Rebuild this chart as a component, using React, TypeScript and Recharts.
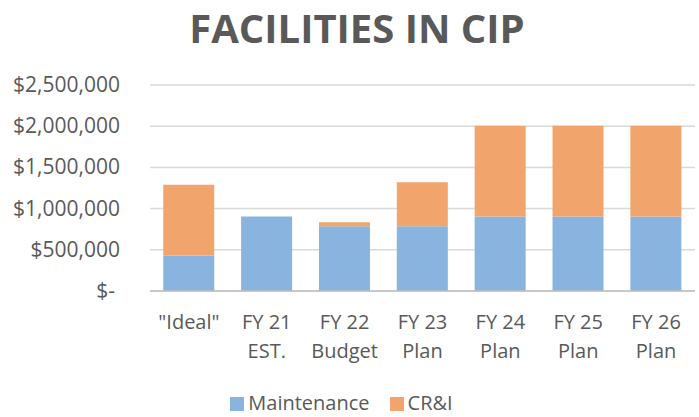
import { Bar, BarChart, CartesianGrid, Legend, XAxis, YAxis } from 'recharts';

const categories = ['"Ideal"', 'FY 21|EST.', 'FY 22|Budget', 'FY 23|Plan', 'FY 24|Plan', 'FY 25|Plan', 'FY 26|Plan'];
const maintenance = [430000, 905000, 785000, 785000, 905000, 905000, 905000];
const crai = [860000, 0, 50000, 535000, 1100000, 1100000, 1100000];
const yTicks = [0, 500000, 1000000, 1500000, 2000000, 2500000];
const seriesNames = ['Maintenance', 'CR&I'];
const seriesColors = ['#8AB4E0', '#F1A46C'];

const data = categories.map((name, i) => ({
  name,
  maintenance: maintenance[i],
  crai: crai[i],
}));

const FONT = '"Open Sans", sans-serif';
const GRAY = '#595959';

function formatMoney(v: number) {
  if (v === 0) return '$-';
  return '$' + v.toLocaleString('en-US');
}

// y tick: Excel accounting style, "$-" sits a bit left
function YTick(props: any) {
  const { x, y, payload } = props;
  const isZero = payload.value === 0;
  return (
    <text x={isZero ? x - 5 : x} y={y} dy={7} textAnchor="end" fill={GRAY} fontSize={21} fontFamily={FONT}>
      {formatMoney(payload.value)}
    </text>
  );
}

// x tick: two lines split on "|"
function XTick(props: any) {
  const { x, y, payload } = props;
  const lines = String(payload.value).split('|');
  return (
    <g>
      {lines.map((line, i) => (
        <text key={i} x={x} y={y + 30 + i * 29} textAnchor="middle" fill={GRAY} fontSize={20} fontFamily={FONT}>
          {line}
        </text>
      ))}
    </g>
  );
}

// legend kept in series order (recharts would sort it by name)
function LegendContent() {
  return (
    <div
      style={{
        height: 28,
        display: 'flex',
        justifyContent: 'center',
        alignItems: 'center',
        marginLeft: -12,
        fontFamily: FONT,
        fontSize: 20,
        lineHeight: '28px',
        color: GRAY,
      }}
    >
      {seriesNames.map((n, i) => (
        <div key={n} style={{ display: 'flex', alignItems: 'center', marginRight: i === 0 ? 20 : 0 }}>
          <span style={{ width: 14, height: 14, background: seriesColors[i], marginRight: 4, marginTop: 2 }} />
          <span>{n}</span>
        </div>
      ))}
    </div>
  );
}

export default function App() {
  return (
    <div style={{ position: 'absolute', left: 0, top: 0, width: 699, height: 417, background: '#fff' }}>
      <svg width={699} height={60} style={{ position: 'absolute', left: 0, top: 0 }}>
        <text x={357} y={43} textAnchor="middle" fill={GRAY} fontSize={40} fontWeight={700} fontFamily={FONT}>
          FACILITIES IN CIP
        </text>
      </svg>
      <BarChart
        width={699}
        height={417}
        data={data}
        margin={{ top: 85, right: 4, left: 0, bottom: 0 }}
        barCategoryGap="17%"
      >
        <CartesianGrid vertical={false} stroke="#d9d9d9" strokeWidth={1.5} />
        <XAxis
          dataKey="name"
          interval={0}
          tick={<XTick />}
          tickLine={false}
          axisLine={{ stroke: '#bfbfbf', strokeWidth: 1.5 }}
          height={98}
        />
        <YAxis
          domain={[0, 2500000]}
          ticks={yTicks}
          tick={<YTick />}
          tickLine={false}
          axisLine={false}
          tickMargin={24}
          width={150}
        />
        <Legend verticalAlign="bottom" content={<LegendContent />} />
        <Bar dataKey="maintenance" name={seriesNames[0]} stackId="a" fill={seriesColors[0]} isAnimationActive={false} />
        <Bar dataKey="crai" name={seriesNames[1]} stackId="a" fill={seriesColors[1]} isAnimationActive={false} />
      </BarChart>
    </div>
  );
}
